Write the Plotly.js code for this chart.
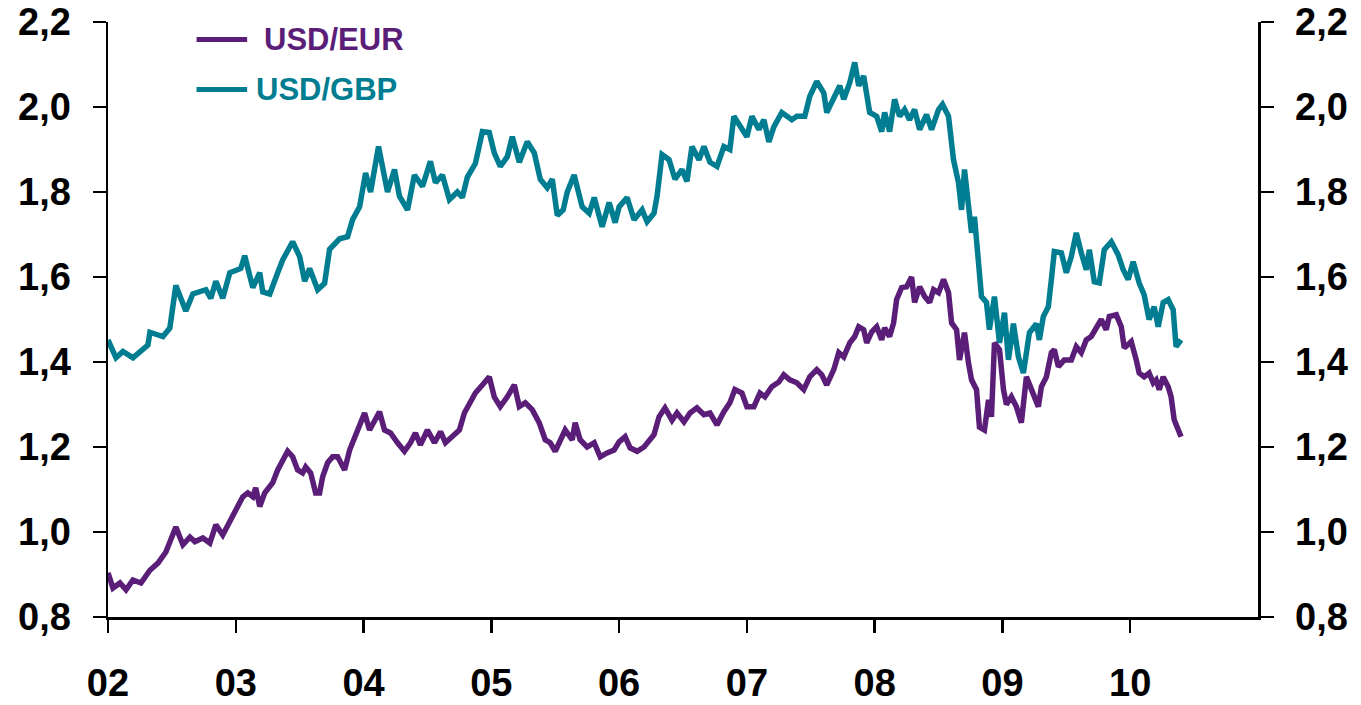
<!DOCTYPE html>
<html>
<head>
<meta charset="utf-8">
<script src="https://cdn.plot.ly/plotly-3.0.1.min.js"></script>
<style>html,body{margin:0;padding:0;background:#fff;}#chart{width:1361px;height:705px;}</style>
</head>
<body>
<div id="chart"></div>
<script>
// USD/GBP (decimal year, rate)
var gbpYears = [2002.000,2002.0625,2002.117,2002.195,2002.3125,2002.328,2002.430,2002.484,2002.531,2002.609,2002.664,2002.766,2002.805,2002.844,2002.898,2002.953,2003.039,2003.070,2003.133,2003.1875,2003.211,2003.266,2003.328,2003.367,2003.445,2003.5,2003.539,2003.578,2003.641,2003.695,2003.734,2003.8125,2003.875,2003.914,2003.969,2004.016,2004.055,2004.094,2004.117,2004.148,2004.1875,2004.242,2004.281,2004.344,2004.398,2004.461,2004.523,2004.5625,2004.617,2004.672,2004.734,2004.773,2004.8125,2004.875,2004.930,2004.984,2005.023,2005.070,2005.125,2005.164,2005.219,2005.281,2005.336,2005.383,2005.4375,2005.477,2005.516,2005.5625,2005.594,2005.648,2005.711,2005.766,2005.805,2005.867,2005.922,2005.969,2006.0,2006.0625,2006.117,2006.180,2006.219,2006.273,2006.297,2006.336,2006.391,2006.4375,2006.492,2006.531,2006.570,2006.625,2006.664,2006.711,2006.766,2006.820,2006.867,2006.898,2006.945,2007.0,2007.039,2007.094,2007.133,2007.172,2007.211,2007.273,2007.352,2007.391,2007.453,2007.492,2007.547,2007.602,2007.625,2007.680,2007.727,2007.758,2007.805,2007.844,2007.875,2007.914,2007.961,2008.016,2008.055,2008.078,2008.117,2008.156,2008.195,2008.234,2008.273,2008.3125,2008.352,2008.406,2008.445,2008.5,2008.531,2008.578,2008.617,2008.656,2008.680,2008.703,2008.734,2008.758,2008.781,2008.8125,2008.836,2008.875,2008.898,2008.9375,2008.977,2009.016,2009.047,2009.086,2009.125,2009.164,2009.211,2009.266,2009.289,2009.320,2009.359,2009.383,2009.406,2009.461,2009.5,2009.539,2009.578,2009.617,2009.656,2009.680,2009.719,2009.758,2009.797,2009.852,2009.906,2009.945,2009.984,2010.023,2010.070,2010.109,2010.148,2010.1875,2010.219,2010.258,2010.297,2010.336,2010.359,2010.398];
var gbpValues = [1.452,1.41,1.425,1.41,1.44,1.47,1.46,1.48,1.58,1.52,1.56,1.57,1.55,1.59,1.55,1.61,1.62,1.65,1.575,1.61,1.565,1.56,1.61,1.64,1.683,1.648,1.59,1.62,1.57,1.585,1.665,1.69,1.695,1.735,1.765,1.845,1.80,1.87,1.907,1.86,1.80,1.853,1.79,1.758,1.84,1.813,1.872,1.822,1.84,1.782,1.80,1.787,1.835,1.867,1.942,1.94,1.892,1.86,1.883,1.93,1.87,1.918,1.892,1.83,1.81,1.83,1.745,1.758,1.80,1.84,1.765,1.75,1.787,1.718,1.775,1.728,1.765,1.787,1.735,1.758,1.73,1.75,1.79,1.888,1.876,1.83,1.853,1.825,1.907,1.876,1.907,1.87,1.86,1.907,1.90,1.978,1.953,1.93,1.978,1.947,1.97,1.918,1.953,1.987,1.97,1.978,1.978,2.025,2.06,2.033,1.987,2.025,2.05,2.018,2.057,2.105,2.05,2.073,1.987,1.978,1.942,1.987,1.942,2.018,1.978,1.994,1.97,1.994,1.947,1.982,1.947,1.994,2.006,1.978,1.876,1.822,1.758,1.853,1.775,1.704,1.742,1.624,1.554,1.54,1.476,1.554,1.445,1.516,1.405,1.49,1.412,1.374,1.469,1.49,1.452,1.507,1.53,1.594,1.66,1.657,1.61,1.648,1.704,1.657,1.617,1.664,1.589,1.586,1.664,1.683,1.652,1.617,1.594,1.636,1.586,1.558,1.50,1.53,1.483,1.54,1.547,1.523,1.436,1.452];

// USD/EUR (decimal year, rate)
var eurYears = [2002.000,2002.039,2002.094,2002.141,2002.195,2002.258,2002.328,2002.391,2002.453,2002.531,2002.586,2002.641,2002.680,2002.742,2002.797,2002.844,2002.898,2002.992,2003.055,2003.094,2003.133,2003.156,2003.1875,2003.227,2003.289,2003.328,2003.406,2003.445,2003.484,2003.523,2003.547,2003.586,2003.625,2003.656,2003.680,2003.719,2003.758,2003.797,2003.852,2003.891,2003.953,2004.008,2004.047,2004.086,2004.125,2004.164,2004.211,2004.266,2004.320,2004.367,2004.406,2004.445,2004.5,2004.555,2004.602,2004.641,2004.695,2004.75,2004.789,2004.836,2004.875,2004.930,2004.984,2005.023,2005.070,2005.125,2005.180,2005.219,2005.266,2005.320,2005.375,2005.422,2005.461,2005.5,2005.539,2005.578,2005.633,2005.656,2005.695,2005.75,2005.805,2005.852,2005.906,2005.961,2006.0,2006.047,2006.086,2006.141,2006.195,2006.234,2006.273,2006.3125,2006.359,2006.414,2006.453,2006.508,2006.555,2006.609,2006.664,2006.711,2006.766,2006.820,2006.867,2006.906,2006.961,2007.0,2007.055,2007.102,2007.141,2007.195,2007.25,2007.289,2007.336,2007.391,2007.445,2007.492,2007.547,2007.586,2007.625,2007.680,2007.719,2007.758,2007.805,2007.844,2007.875,2007.914,2007.9375,2007.977,2008.016,2008.055,2008.078,2008.117,2008.148,2008.172,2008.211,2008.25,2008.289,2008.3125,2008.352,2008.391,2008.430,2008.461,2008.5,2008.539,2008.578,2008.602,2008.641,2008.664,2008.703,2008.734,2008.758,2008.797,2008.820,2008.859,2008.891,2008.914,2008.9375,2008.977,2009.008,2009.031,2009.070,2009.109,2009.148,2009.1875,2009.227,2009.281,2009.305,2009.344,2009.383,2009.406,2009.4375,2009.484,2009.539,2009.578,2009.617,2009.656,2009.695,2009.734,2009.773,2009.8125,2009.836,2009.891,2009.930,2009.953,2010.008,2010.047,2010.070,2010.109,2010.148,2010.180,2010.203,2010.227,2010.258,2010.297,2010.320,2010.344,2010.375,2010.398];
var eurValues = [0.904,0.868,0.88,0.864,0.887,0.88,0.91,0.927,0.953,1.012,0.97,0.988,0.977,0.986,0.974,1.017,0.993,1.045,1.083,1.092,1.083,1.104,1.06,1.092,1.116,1.146,1.19,1.177,1.146,1.139,1.153,1.139,1.092,1.092,1.13,1.163,1.177,1.177,1.146,1.193,1.24,1.28,1.24,1.263,1.283,1.24,1.233,1.21,1.19,1.21,1.233,1.205,1.24,1.21,1.236,1.21,1.224,1.24,1.28,1.304,1.327,1.346,1.365,1.318,1.295,1.318,1.346,1.295,1.304,1.288,1.257,1.217,1.21,1.19,1.217,1.24,1.217,1.257,1.217,1.20,1.21,1.177,1.186,1.193,1.212,1.224,1.198,1.19,1.20,1.217,1.229,1.271,1.292,1.263,1.28,1.259,1.28,1.292,1.276,1.28,1.252,1.283,1.304,1.335,1.327,1.295,1.295,1.327,1.318,1.342,1.353,1.37,1.358,1.351,1.335,1.365,1.382,1.37,1.346,1.382,1.422,1.412,1.445,1.46,1.483,1.476,1.445,1.471,1.483,1.452,1.48,1.46,1.492,1.547,1.575,1.577,1.60,1.54,1.577,1.554,1.54,1.57,1.563,1.594,1.563,1.492,1.476,1.405,1.469,1.398,1.358,1.335,1.247,1.24,1.311,1.271,1.445,1.429,1.335,1.30,1.318,1.295,1.257,1.365,1.335,1.295,1.342,1.365,1.422,1.429,1.389,1.405,1.405,1.436,1.422,1.452,1.46,1.483,1.50,1.476,1.507,1.511,1.483,1.433,1.448,1.405,1.374,1.365,1.374,1.351,1.358,1.335,1.365,1.342,1.318,1.264,1.24,1.224];

var yearTicks = [2002,2003,2004,2005,2006,2007,2008,2009,2010];
var yearLabels = ['02','03','04','05','06','07','08','09','10'];
var seriesNames = ['USD/EUR','USD/GBP'];
var colEUR = '#5a1e78';
var colGBP = '#007d91';

var tickFont = {family:'Liberation Sans, Arial, sans-serif', size:38, color:'#000', weight:700};

var traces = [
  {x:gbpYears, y:gbpValues, type:'scatter', mode:'lines', name:seriesNames[1],
   line:{color:colGBP, width:5.5}, xaxis:'x', yaxis:'y', hoverinfo:'skip'},
  {x:eurYears, y:eurValues, type:'scatter', mode:'lines', name:seriesNames[0],
   line:{color:colEUR, width:5.5}, xaxis:'x', yaxis:'y2', hoverinfo:'skip'}
];

var yCommon = {range:[0.8,2.2], dtick:0.2, tick0:0.8, tickformat:'.1f',
  showgrid:false, zeroline:false, showline:true, linecolor:'#000', linewidth:2.5,
  ticks:'outside', ticklen:13, tickwidth:2.5, tickcolor:'#000', tickfont:tickFont,
  ticklabelstandoff:14, fixedrange:true};

var layout = {
  width:1361, height:705,
  margin:{l:108, r:103, t:22, b:88},
  paper_bgcolor:'#fff', plot_bgcolor:'#fff',
  separators:', ',
  showlegend:false,
  xaxis:{range:[2002,2011], tickvals:yearTicks, ticktext:yearLabels,
    showgrid:false, zeroline:false, showline:true, linecolor:'#000', linewidth:2.5,
    ticks:'outside', ticklen:13, tickwidth:2.5, tickcolor:'#000', tickfont:tickFont,
    ticklabelstandoff:18, fixedrange:true},
  yaxis:Object.assign({side:'left'}, yCommon),
  yaxis2:Object.assign({side:'right', overlaying:'y'}, yCommon),
  shapes:[
    {type:'line', xref:'paper', yref:'paper', x0:0.077, x1:0.121, y0:0.9706, y1:0.9706, line:{color:colEUR, width:5}},
    {type:'line', xref:'paper', yref:'paper', x0:0.077, x1:0.121, y0:0.8865, y1:0.8865, line:{color:colGBP, width:5}}
  ],
  annotations:[
    {xref:'paper', yref:'paper', x:0.134, y:0.9706, xanchor:'left', yanchor:'middle', showarrow:false,
     text:seriesNames[0], font:{family:'Liberation Sans, Arial, sans-serif', size:31, color:colEUR, weight:700}},
    {xref:'paper', yref:'paper', x:0.127, y:0.8865, xanchor:'left', yanchor:'middle', showarrow:false,
     text:seriesNames[1], font:{family:'Liberation Sans, Arial, sans-serif', size:31, color:colGBP, weight:700}}
  ]
};

Plotly.newPlot('chart', traces, layout, {staticPlot:true, displayModeBar:false});
</script>
</body>
</html>
